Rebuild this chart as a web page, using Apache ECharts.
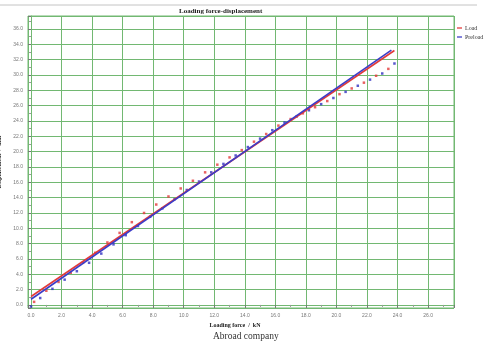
<!DOCTYPE html>
<html>
<head>
  <meta charset="UTF-8">
  <title>Loading force-displacement</title>
  <script src="https://cdn.jsdelivr.net/npm/echarts@6/dist/echarts.min.js"></script>
  <style>
    html, body { margin: 0; padding: 0; background: #fff; }
    #main { width: 490px; height: 344px; }
  </style>
</head>
<body>
<div id="main"></div>
<script>
  // measured points (force kN, displacement mm)
  var loadForce = [0.2, 1.0, 1.8, 2.6, 3.4, 4.2, 5.0, 5.8, 6.6, 7.4, 8.2, 9.0, 9.8, 10.6, 11.4,
    12.2, 13.0, 13.8, 14.6, 15.4, 16.2, 17.0, 17.8, 18.6, 19.4, 20.2, 21.0, 21.8, 22.6, 23.4];
  var loadDisp = [0.4, 1.85, 3.0, 4.2, 5.5, 6.8, 8.15, 9.4, 10.8, 12.0, 13.1, 14.15, 15.2, 16.2, 17.3,
    18.3, 19.25, 20.2, 21.3, 22.3, 23.4, 24.25, 25.0, 25.8, 26.6, 27.5, 28.25, 29.0, 29.9, 30.8];

  var preForce = [0.0, 0.6, 1.4, 2.2, 3.0, 3.8, 4.6, 5.4, 6.2, 7.0, 7.8, 8.6, 9.4, 10.2, 11.0, 11.8,
    12.6, 13.4, 14.2, 15.0, 15.8, 16.6, 17.4, 18.2, 19.0, 19.8, 20.6, 21.4, 22.2, 23.0, 23.8];
  var preDisp = [-0.2, 0.9, 2.1, 3.3, 4.4, 5.5, 6.7, 7.9, 9.1, 10.3, 11.5, 12.6, 13.8, 15.0, 16.1, 17.3,
    18.4, 19.5, 20.6, 21.7, 22.8, 23.8, 24.6, 25.4, 26.2, 27.0, 27.8, 28.6, 29.4, 30.2, 31.5];

  // fitted lines (start / end)
  var loadFitForce = [0.0, 23.8];
  var loadFitDisp = [1.1, 33.2];
  var preFitForce = [0.0, 23.6];
  var preFitDisp = [0.74, 33.25];

  var xRange = [-0.2, 27.7];
  var yRange = [-0.4, 37.7];
  var tickStep = 2;

  var pairs = function(xs, ys) {
    var res = [];
    for (var i = 0; i < xs.length; i++) res.push([xs[i], ys[i]]);
    return res;
  };

  var green = '#72b872';
  var serif = '"Liberation Serif", "DejaVu Serif", serif';

  var makeAxis = function(range, n, name, gap, namePad) {
    return {
      type: 'value', min: range[0], max: range[1], splitNumber: n,
      minInterval: tickStep, maxInterval: tickStep,
      name: name, nameLocation: 'middle', nameGap: gap,
      nameTextStyle: { fontSize: 6, fontWeight: 'bold', color: '#222', fontFamily: serif,
        padding: namePad },
      axisLine: { show: true, lineStyle: { color: green } },
      axisTick: { show: true, length: 3, lineStyle: { color: '#777' } },
      minorTick: { show: true, splitNumber: 2, length: 2, lineStyle: { color: '#999' } },
      axisLabel: {
        fontSize: 5, color: '#777', fontFamily: '"Liberation Sans", sans-serif', margin: 5,
        showMinLabel: false, showMaxLabel: false,
        formatter: function(v) { return v.toFixed(1); }
      },
      splitLine: { show: true, lineStyle: { color: green, width: 1 } },
      minorSplitLine: { show: false }
    };
  };

  var option = {
    backgroundColor: '#fff',
    animation: false,
    title: [{
      text: 'Loading force-displacement',
      left: 179, top: 8, padding: 0,
      textStyle: { fontSize: 7, fontWeight: 'bold', color: '#222', fontFamily: serif }
    }, {
      text: 'Abroad company',
      left: 213, top: 331, padding: 0,
      textStyle: { fontSize: 9.5, fontWeight: 'normal', color: '#333', fontFamily: serif }
    }],
    graphic: [{
      type: 'line', shape: { x1: 0, y1: 5, x2: 477, y2: 5 },
      style: { stroke: '#c4c4c4', lineWidth: 1 }
    }],
    legend: {
      orient: 'vertical', left: 457, top: 25, itemGap: 3, padding: 0,
      itemWidth: 5, itemHeight: 1.6, icon: 'rect',
      textStyle: { fontSize: 6, color: '#333', fontFamily: serif, padding: [0, 0, 0, -2] },
      data: [{ name: 'Load', itemStyle: { color: '#e23a3a' } },
             { name: 'Preload', itemStyle: { color: '#3c3cc8' } }]
    },
    grid: {
      left: 28, right: 36, top: 16, bottom: 36,
      containLabel: false, outerBoundsMode: 'none',
      show: true, borderColor: green, borderWidth: 1
    },
    xAxis: makeAxis(xRange, 14, 'Loading force  /  kN', 12, [0, 12, 0, 0]),
    yAxis: makeAxis(yRange, 19, 'Displacement  /  mm', 17, 0),
    series: [{
      name: 'Load', type: 'scatter', symbol: 'rect', symbolSize: 2.5,
      itemStyle: { color: '#e23a3a' },
      data: pairs(loadForce, loadDisp)
    }, {
      name: 'Preload', type: 'scatter', symbol: 'rect', symbolSize: 2.5,
      itemStyle: { color: '#3030c0' },
      data: pairs(preForce, preDisp)
    }, {
      name: 'Load', type: 'line', showSymbol: false,
      lineStyle: { color: '#e23a3a', width: 1.6 }, itemStyle: { color: '#e23a3a' },
      data: pairs(loadFitForce, loadFitDisp)
    }, {
      name: 'Preload', type: 'line', showSymbol: false,
      lineStyle: { color: '#3c3cc8', width: 1.6 }, itemStyle: { color: '#3c3cc8' },
      data: pairs(preFitForce, preFitDisp)
    }]
  };

  echarts.init(document.getElementById('main')).setOption(option);
</script>
</body>
</html>
